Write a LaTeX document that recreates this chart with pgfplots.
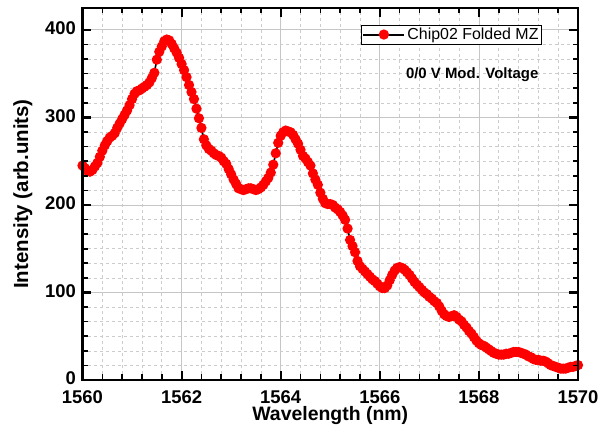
\documentclass[border=0pt]{standalone}
\usepackage{fontspec}
\setmainfont{Liberation Sans}
\usepackage{pgfplots}
\pgfplotsset{compat=1.18}
\pgfplotsset{base/.style={
  scale only axis, width=495.5bp, height=372bp,
  xmin=1560, xmax=1570, ymin=0, ymax=425,
  xtick={1560,1562,1564,1566,1568,1570}, ytick={0,100,200,300,400},
  minor x tick num=4, minor y tick num=5,
}}
\begin{document}
\begin{tikzpicture}
\begin{axis}[base,
  xticklabel style={/pgf/number format/1000 sep={}, yshift=-7bp},
  yticklabel style={xshift=-3bp, yshift=1.5bp},
  /pgf/number format/assume math mode=true,
  tick label style={font=\fontsize{18.5}{20}\selectfont\bfseries},
  xlabel style={font=\fontsize{19.5}{21}\selectfont\bfseries, yshift=3.5bp},
  ylabel style={font=\fontsize{20.5}{22}\selectfont\bfseries, yshift=6bp},
  xlabel={Wavelength (nm)}, ylabel={Intensity (arb.units)},
  axis line style={line width=2.8pt},
  grid=both, major tick length=0pt, minor tick length=0pt,
  major grid style={gray!45, line width=0.8pt},
  minor grid style={gray!40, dashed, line width=0.6pt},
  legend style={at={(0.927,0.955)}, anchor=north east, draw=black, line width=0.6pt,
    font=\fontsize{16}{18}\selectfont, inner sep=1pt, row sep=0pt},
  legend cell align=left,
  legend image code/.code={
    \draw[black, line width=2pt] (0cm,0cm) -- (1.45cm,0cm);
    \fill[red] (0.725cm,0cm) circle (4.3bp);
  },
]
\addplot[black, line width=1.6pt, mark=*, mark size=4.3bp, mark options={red, fill=red, draw=red}] coordinates {
(1560.00,245)(1560.05,242)(1560.10,239)(1560.15,238)(1560.20,240)(1560.25,244)(1560.30,248)(1560.35,255)(1560.40,262)(1560.45,268)
(1560.50,273)(1560.55,277)(1560.60,279)(1560.65,282)(1560.70,288)(1560.75,293)(1560.80,298)(1560.85,303)(1560.90,308)(1560.95,314)
(1561.00,321)(1561.05,327)(1561.10,330)(1561.15,331)(1561.20,333)(1561.25,335)(1561.30,337)(1561.35,340)(1561.40,345)(1561.45,351)
(1561.50,366)(1561.55,375)(1561.60,381)(1561.65,387)(1561.70,389)(1561.75,388)(1561.80,384)(1561.85,379)(1561.90,374)(1561.95,368)
(1562.00,361)(1562.05,354)(1562.10,346)(1562.15,337)(1562.20,329)(1562.25,321)(1562.30,310)(1562.35,299)(1562.40,288)(1562.45,275)
(1562.50,268)(1562.55,264)(1562.60,262)(1562.65,259)(1562.70,257)(1562.75,256)(1562.80,254)(1562.85,250)(1562.90,247)(1562.95,241)
(1563.00,235)(1563.05,229)(1563.10,224)(1563.15,219)(1563.20,218)(1563.25,217)(1563.30,218)(1563.35,219)(1563.40,219)(1563.45,218)
(1563.50,217)(1563.55,218)(1563.60,220)(1563.65,223)(1563.70,227)(1563.75,231)(1563.80,237)(1563.85,246)(1563.90,259)(1563.95,271)
(1564.00,279)(1564.05,283)(1564.10,285)(1564.15,284)(1564.20,283)(1564.25,280)(1564.30,275)(1564.35,270)(1564.40,263)(1564.45,256)
(1564.50,253)(1564.55,249)(1564.60,245)(1564.65,236)(1564.70,229)(1564.75,223)(1564.80,214)(1564.85,207)(1564.90,202)(1564.95,201)
(1565.00,201)(1565.05,200)(1565.10,197)(1565.15,195)(1565.20,192)(1565.25,188)(1565.30,183)(1565.35,173)(1565.40,160)(1565.45,153)
(1565.50,146)(1565.55,136)(1565.60,130)(1565.65,127)(1565.70,124)(1565.75,121)(1565.80,118)(1565.85,115)(1565.90,113)(1565.95,110)
(1566.00,107)(1566.05,105)(1566.10,105)(1566.15,108)(1566.20,114)(1566.25,120)(1566.30,125)(1566.35,128)(1566.40,129)(1566.45,128)
(1566.50,126)(1566.55,123)(1566.60,120)(1566.65,116)(1566.70,112)(1566.75,109)(1566.80,106)(1566.85,103)(1566.90,100)(1566.95,98)
(1567.00,95)(1567.05,93)(1567.10,90)(1567.15,88)(1567.20,84)(1567.25,79)(1567.30,75)(1567.35,73)(1567.40,72)(1567.45,73)
(1567.50,74)(1567.55,72)(1567.60,69)(1567.65,67)(1567.70,63)(1567.75,60)(1567.80,56)(1567.85,53)(1567.90,49)(1567.95,45)
(1568.00,42)(1568.05,40)(1568.10,39)(1568.15,37)(1568.20,35)(1568.25,33)(1568.30,31)(1568.35,30)(1568.40,29)(1568.45,29)
(1568.50,29)(1568.55,30)(1568.60,30)(1568.65,31)(1568.70,32)(1568.75,32)(1568.80,32)(1568.85,31)(1568.90,30)(1568.95,29)
(1569.00,27)(1569.05,26)(1569.10,24)(1569.15,23)(1569.20,23)(1569.25,22)(1569.30,22)(1569.35,21)(1569.40,19)(1569.45,17)
(1569.50,16)(1569.55,15)(1569.60,14)(1569.65,13)(1569.70,13)(1569.75,13)(1569.80,14)(1569.85,15)(1569.90,15)(1569.95,16)
(1570.00,17)
};
\addlegendentry{Chip02 Folded MZ}
\node[anchor=east, font=\fontsize{15}{17}\selectfont\bfseries] at (rel axis cs:0.927,0.822) {0/0 V Mod. Voltage};
\end{axis}
\begin{axis}[base,
  xticklabels={}, yticklabels={},
  axis line style={line width=2.8pt},
  tick align=inside, xtick pos=both, ytick pos=both,
  major tick length=9bp, minor tick length=5.5bp,
  every major tick/.style={draw=black, line width=2.2pt},
  every minor tick/.style={draw=black, line width=1.6pt},
]
\end{axis}
\path (current axis.south west) ++(-82.5bp,-54bp) rectangle ([xshift=31bp,yshift=8bp]current axis.north east);
\end{tikzpicture}
\end{document}
